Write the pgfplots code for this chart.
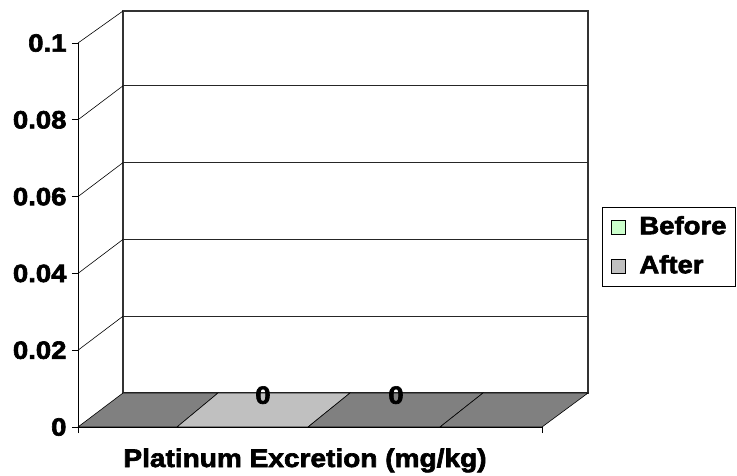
\documentclass[border=0pt]{standalone}
\usepackage{fontspec}
\setmainfont[FakeStretch=1.1, BoldFont={Liberation Sans Bold}, BoldFeatures={FakeBold=2.5}]{Liberation Sans}
\usepackage{pgfplots}
\pgfplotsset{compat=1.18}
\definecolor{floordark}{RGB}{128,128,128}
\definecolor{floorlight}{RGB}{192,192,192}
\definecolor{before}{RGB}{204,255,204}
\definecolor{after}{RGB}{192,192,192}
\newcommand{\tickfont}{\fontsize{25}{29}\selectfont\bfseries}
\newcommand{\legfont}{\fontsize{25}{29}\selectfont\bfseries}
\newcommand{\titlefont}{\fontsize{25.5}{29}\selectfont\bfseries}
\begin{document}
\begin{tikzpicture}
\begin{axis}[
 scale only axis, width=464pt, height=384pt,
 xmin=78, xmax=542, ymin=0, ymax=0.1,
 clip=false, axis on top,
 axis lines=left, axis line style={-, black, line width=0.8pt},
 xtick={78,542}, xticklabels={,},
 ytick={0,0.02,0.04,0.06,0.08,0.1},
 yticklabels={0,0.02,0.04,0.06,0.08,0.1},
 tick align=outside, major tick length=6pt,
 tick style={black, line width=0.8pt},
 yticklabel style={font=\tickfont, xshift=-2pt},
 xlabel={Platinum Excretion (mg/kg)},
 xlabel style={font=\titlefont, at={(axis cs:305,-0.01042)}, anchor=base},
 legend style={at={(axis cs:602,0.05720)}, anchor=north west, draw=black, line width=0.8pt,
   font=\legfont, inner xsep=7pt, inner ysep=6.5pt, row sep=12pt,
   nodes={inner sep=2pt, text height=18pt, text depth=5pt},
   legend cell align=left},
 legend image code/.code={\path[draw=none, fill=none] (0pt,0pt) -- (28pt,0pt);
   \draw[#1, draw=black, line width=0.6pt] (2pt,-7pt) rectangle (16pt,7pt);},
]
% bounding box
\addplot[draw=none, forget plot] coordinates {(0,-0.01224) (737,0.1112)};
% back wall
\addplot[forget plot, fill=white, draw=black!80, line width=1.2pt] coordinates {(123,0.00885) (588,0.00885) (588,0.10833) (123,0.10833)} -- cycle;
% back wall gridlines
\addplot[forget plot, black!85, line width=1.1pt] coordinates {(123,0.02885) (588,0.02885)};
\addplot[forget plot, black!85, line width=1.1pt] coordinates {(123,0.04885) (588,0.04885)};
\addplot[forget plot, black!85, line width=1.1pt] coordinates {(123,0.06885) (588,0.06885)};
\addplot[forget plot, black!85, line width=1.1pt] coordinates {(123,0.08885) (588,0.08885)};
% side wall diagonals
\addplot[forget plot, black, line width=0.6pt] coordinates {(78,0.02) (123,0.02885)};
\addplot[forget plot, black, line width=0.6pt] coordinates {(78,0.04) (123,0.04885)};
\addplot[forget plot, black, line width=0.6pt] coordinates {(78,0.06) (123,0.06885)};
\addplot[forget plot, black, line width=0.6pt] coordinates {(78,0.08) (123,0.08885)};
\addplot[forget plot, black, line width=0.6pt] coordinates {(78,0.1) (123,0.10833)};
% floor
\addplot[forget plot, fill=floordark, draw=black, line width=0.6pt] coordinates {(78,0) (177,0) (218,0.00885) (123,0.00885)} -- cycle;
\addplot[forget plot, fill=floorlight, draw=black, line width=0.6pt] coordinates {(177,0) (308,0) (350,0.00885) (218,0.00885)} -- cycle;
\addplot[forget plot, fill=floordark, draw=black, line width=0.6pt] coordinates {(308,0) (440,0) (483,0.00885) (350,0.00885)} -- cycle;
\addplot[forget plot, fill=floordark, draw=black, line width=0.6pt] coordinates {(440,0) (542,0) (588,0.00885) (483,0.00885)} -- cycle;
% value labels (Before = 0, After = 0)
\addplot[forget plot, draw=none, nodes near coords, point meta=explicit symbolic,
  nodes near coords style={font=\tickfont, anchor=center}] coordinates {(263,0.0083) [0] (396,0.0083) [0]};
\addlegendimage{fill=before}
\addlegendentry{Before}
\addlegendimage{fill=after}
\addlegendentry{After}
\end{axis}
\end{tikzpicture}
\end{document}
